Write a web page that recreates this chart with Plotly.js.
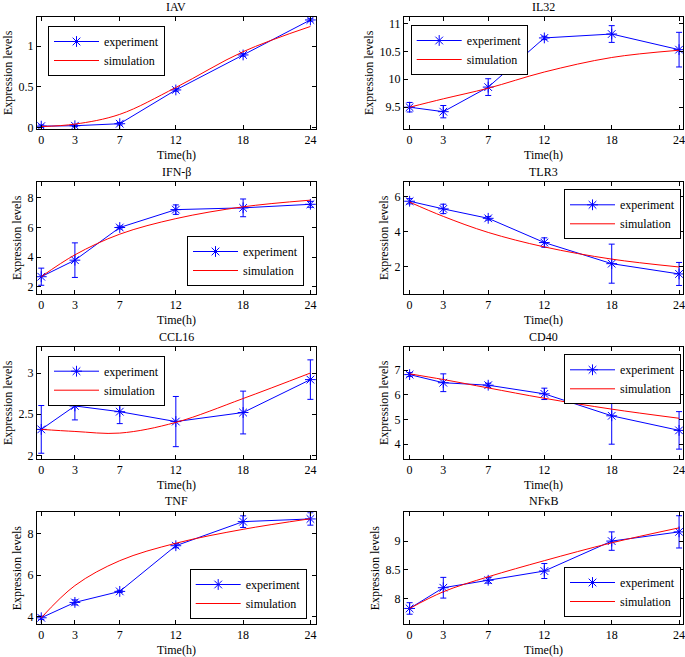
<!DOCTYPE html>
<html>
<head>
<meta charset="utf-8">
<script src="https://cdn.plot.ly/plotly-3.0.1.min.js"></script>
<style>html,body{margin:0;padding:0;background:#fff;}#chart{width:685px;height:657px;}</style>
</head>
<body>
<div id="chart"></div>
<script>
// ---- data ----
const hours = [0, 3, 7, 12, 18, 24];
const xTickLabels = ['0', '3', '7', '12', '18', '24'];
const geneNames = ['IAV', 'IL32', 'IFN-β', 'TLR3', 'CCL16', 'CD40', 'TNF', 'NFκB'];

const IAV_exp = [0.015, 0.02, 0.045, 0.46, 0.89, 1.32];
const IAV_err = [0.015, 0.01, 0.015, 0.015, 0.015, 0.015];
const IAV_sim = [0.01, 0.04, 0.16, 0.49, 0.93, 1.24];

const IL32_exp = [9.5, 9.42, 9.86, 10.74, 10.81, 10.53];
const IL32_err = [0.085, 0.11, 0.15, 0.03, 0.15, 0.31];
const IL32_sim = [9.5, 9.65, 9.84, 10.13, 10.39, 10.52];

const IFNB_exp = [2.67, 3.79, 6.0, 7.21, 7.33, 7.57];
const IFNB_err = [0.58, 1.17, 0.1, 0.32, 0.6, 0.2];
const IFNB_sim = [2.67, 4.15, 5.55, 6.6, 7.4, 7.85];

const TLR3_exp = [5.75, 5.31, 4.77, 3.38, 2.17, 1.58];
const TLR3_err = [0.15, 0.27, 0.1, 0.27, 1.12, 0.66];
const TLR3_sim = [5.7, 4.88, 3.96, 3.13, 2.43, 1.98];

const CCL16_exp = [2.315, 2.60, 2.53, 2.41, 2.52, 2.92];
const CCL16_err = [0.29, 0.17, 0.145, 0.305, 0.26, 0.24];
const CCL16_sim = [2.315, 2.29, 2.27, 2.40, 2.69, 3.0];

const CD40_exp = [6.82, 6.49, 6.39, 6.04, 5.15, 4.56];
const CD40_err = [0.08, 0.36, 0.08, 0.23, 1.15, 0.76];
const CD40_sim = [6.85, 6.62, 6.28, 5.86, 5.42, 5.05];

const TNF_exp = [3.95, 4.69, 5.22, 7.42, 8.58, 8.71];
const TNF_err = [0.08, 0.12, 0.05, 0.1, 0.28, 0.3];
const TNF_sim = [3.95, 5.5, 6.7, 7.54, 8.21, 8.72];

const NFKB_exp = [7.83, 8.19, 8.32, 8.48, 9.0, 9.16];
const NFKB_err = [0.1, 0.18, 0.05, 0.13, 0.16, 0.28];
const NFKB_sim = [7.83, 8.12, 8.38, 8.66, 8.97, 9.23];

const yTicks = [
  [0, 0.5, 1], [9.5, 10, 10.5, 11], [2, 4, 6, 8], [2, 4, 6],
  [2, 2.5, 3], [4, 5, 6, 7], [4, 6, 8], [8, 8.5, 9]
];
const yRanges = [
  [-0.02, 1.36], [9.11, 11.12], [1.5, 9.1], [0.43, 6.87],
  [1.955, 3.32], [3.4, 7.95], [3.65, 9.03], [7.56, 9.5]
];

const expSeries = [IAV_exp, IL32_exp, IFNB_exp, TLR3_exp, CCL16_exp, CD40_exp, TNF_exp, NFKB_exp];
const errSeries = [IAV_err, IL32_err, IFNB_err, TLR3_err, CCL16_err, CD40_err, TNF_err, NFKB_err];
const simSeries = [IAV_sim, IL32_sim, IFNB_sim, TLR3_sim, CCL16_sim, CD40_sim, TNF_sim, NFKB_sim];

// ---- layout geometry (pixels in 685x657 canvas) ----
const W = 685, H = 657;
const colX = [[37, 316], [404, 683]];
const colXRange = [[-0.38, 24.5], [-0.5, 24.35]];
const rowY = [[16.7, 129], [181.7, 294], [346.7, 459], [512.3, 624]];
const titleY = [7, 172, 337, 501];
// legend placement: [x px, y px, xanchor, yanchor]
const legendPos = [
  [48, 26, 'left', 'top'], [410.7, 25, 'left', 'top'],
  [304, 286, 'right', 'bottom'], [681, 189.3, 'right', 'top'],
  [48, 355.7, 'left', 'top'], [681, 354.3, 'right', 'top'],
  [306.7, 619, 'right', 'bottom'], [681, 617, 'right', 'bottom']
];

const FONT = 'Liberation Serif';
const traces = [];
const layout = {
  width: W, height: H,
  margin: {l: 0, r: 0, t: 0, b: 0},
  paper_bgcolor: '#fff', plot_bgcolor: '#fff',
  font: {family: FONT, size: 12, color: '#000'},
  annotations: [],
  showlegend: true
};

for (let i = 0; i < 8; i++) {
  const col = i % 2, row = Math.floor(i / 2);
  const n = i + 1;
  const xa = 'x' + (n === 1 ? '' : n), ya = 'y' + (n === 1 ? '' : n);
  const lg = 'legend' + (n === 1 ? '' : n);
  traces.push({
    x: hours, y: expSeries[i], xaxis: xa, yaxis: ya, legend: lg,
    type: 'scatter', mode: 'lines+markers', name: 'experiment',
    line: {color: '#0000ff', width: 1},
    marker: {symbol: 'asterisk-open', size: 9, color: '#0000ff', line: {color: '#0000ff', width: 1}},
    error_y: {type: 'data', array: errSeries[i], visible: true, color: '#0000ff', thickness: 1, width: 3}
  });
  traces.push({
    x: hours, y: simSeries[i], xaxis: xa, yaxis: ya, legend: lg,
    type: 'scatter', mode: 'lines', name: 'simulation',
    line: {color: '#ff0000', width: 1, shape: 'spline', smoothing: 1}
  });
  const axBase = {
    showline: true, linecolor: '#000', linewidth: 1, mirror: 'ticks',
    ticks: 'inside', ticklen: 4, tickcolor: '#000', tickwidth: 1,
    showgrid: false, zeroline: false, fixedrange: true,
    ticklabeloverflow: 'allow',
    tickfont: {family: FONT, size: 12, color: '#000'}
  };
  layout['xaxis' + (n === 1 ? '' : n)] = Object.assign({}, axBase, {
    domain: [colX[col][0] / W, colX[col][1] / W],
    range: colXRange[col], anchor: ya,
    tickmode: 'array', tickvals: hours, ticktext: xTickLabels,
    title: {text: 'Time(h)', font: {family: FONT, size: 12, color: '#000'}, standoff: 4}
  });
  layout['yaxis' + (n === 1 ? '' : n)] = Object.assign({}, axBase, {
    domain: [1 - rowY[row][1] / H, 1 - rowY[row][0] / H],
    range: yRanges[i], anchor: xa,
    tickmode: 'array', tickvals: yTicks[i],
    title: {text: 'Expression levels', font: {family: FONT, size: 12, color: '#000'}, standoff: 3}
  });
  const lp = legendPos[i];
  layout[lg] = {
    x: lp[0] / W, y: 1 - lp[1] / H, xanchor: lp[2], yanchor: lp[3],
    xref: 'paper', yref: 'paper',
    bgcolor: '#fff', bordercolor: '#000', borderwidth: 1,
    font: {family: FONT, size: 12, color: '#000'},
    itemwidth: 45,
    tracegroupgap: 0
  };
  layout.annotations.push({
    text: geneNames[i], xref: 'paper', yref: 'paper',
    x: ((colX[col][0] + colX[col][1]) / 2) / W, y: 1 - titleY[row] / H,
    xanchor: 'center', yanchor: 'middle', showarrow: false,
    font: {family: FONT, size: 12, color: '#000'}
  });
}

Plotly.newPlot('chart', traces, layout, {displayModeBar: false, staticPlot: true}).then(function(gd) {
  // make sure edge tick labels stay visible
  gd.querySelectorAll('.xaxislayer-above text').forEach(function(t) {
    t.style.display = '';
    t.removeAttribute('display');
    t.style.opacity = 1;
  });
});
</script>
</body>
</html>
